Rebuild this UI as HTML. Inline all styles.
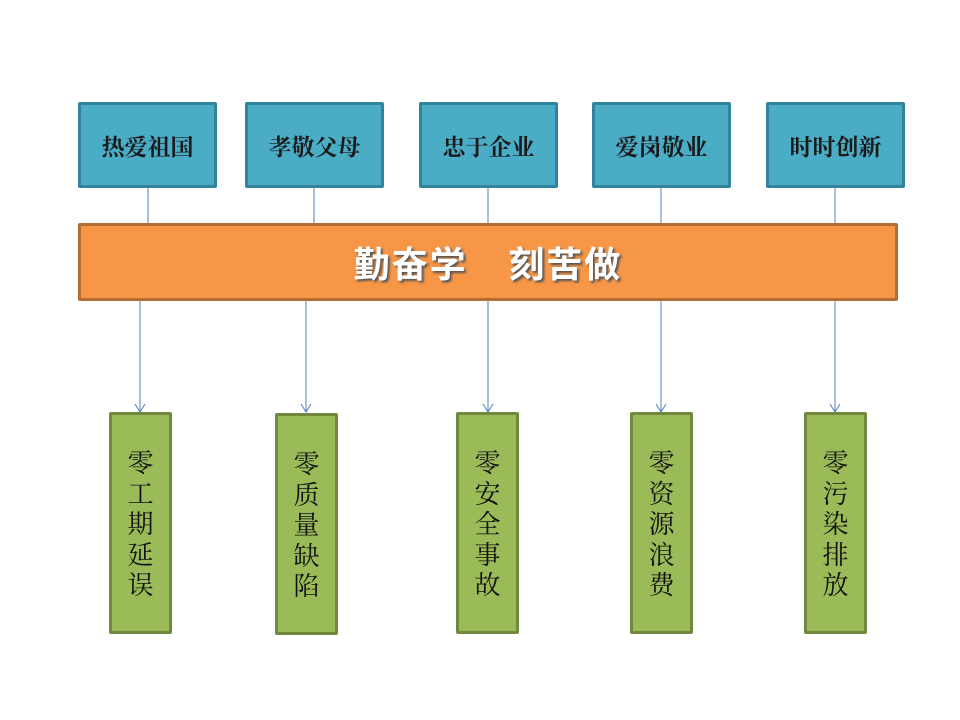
<!DOCTYPE html>
<html><head><meta charset="utf-8"><style>
body{margin:0;width:960px;height:720px;background:#fff;position:relative;overflow:hidden;font-family:"Liberation Serif","Noto Serif CJK SC","Noto Sans CJK SC",serif}
.t{position:absolute;top:102px;width:139px;height:86px;box-sizing:border-box;background:#4bacc6;border:3px solid #31849b;border-radius:2px;display:flex;align-items:center;justify-content:center;font-size:23px;font-weight:bold;color:#1a1a1a}
.g{position:absolute;top:412px;width:63px;height:222px;background:#9bbb59;border:3px solid #71893f;border-radius:2px;font-size:26px;line-height:30.5px;text-align:center;padding-top:34px;box-sizing:border-box;color:#111}
.bar{position:absolute;left:78px;top:223px;width:820px;height:78px;box-sizing:border-box;background:#f79646;border:3px solid #b66d31;border-radius:2px;display:flex;align-items:center;justify-content:center;color:#fff;font-family:"Noto Sans CJK SC",sans-serif;font-weight:bold;font-size:36px;letter-spacing:2px;text-shadow:2px 2px 2px #555}
</style></head><body>
<svg width="960" height="720" style="position:absolute;left:0;top:0">
<g stroke="#4f81bd" stroke-width="1" fill="none">
<line x1="148" y1="187" x2="148" y2="224"/><line x1="314" y1="187" x2="314" y2="224"/><line x1="488" y1="187" x2="488" y2="224"/><line x1="661" y1="187" x2="661" y2="224"/><line x1="835" y1="187" x2="835" y2="224"/>
<line x1="140" y1="300" x2="140" y2="412"/><line x1="306" y1="300" x2="306" y2="412"/><line x1="488" y1="300" x2="488" y2="412"/><line x1="661" y1="300" x2="661" y2="412"/><line x1="835" y1="300" x2="835" y2="412"/>
<polyline points="135,404 140,412 145,404"/><polyline points="301,404 306,412 311,404"/><polyline points="483,404 488,412 493,404"/><polyline points="656,404 661,412 666,404"/><polyline points="830,404 835,412 840,404"/>
</g></svg>
<div class="t" style="left:78px">热爱祖国</div>
<div class="t" style="left:245px">孝敬父母</div>
<div class="t" style="left:419px">忠于企业</div>
<div class="t" style="left:592px">爱岗敬业</div>
<div class="t" style="left:766px">时时创新</div>
<div class="bar">勤奋学&nbsp;&nbsp;&nbsp;&nbsp;刻苦做</div>
<div class="g" style="left:109px">零<br>工<br>期<br>延<br>误</div>
<div class="g" style="left:275px;top:413px">零<br>质<br>量<br>缺<br>陷</div>
<div class="g" style="left:456px">零<br>安<br>全<br>事<br>故</div>
<div class="g" style="left:630px">零<br>资<br>源<br>浪<br>费</div>
<div class="g" style="left:804px">零<br>污<br>染<br>排<br>放</div>
</body></html>
